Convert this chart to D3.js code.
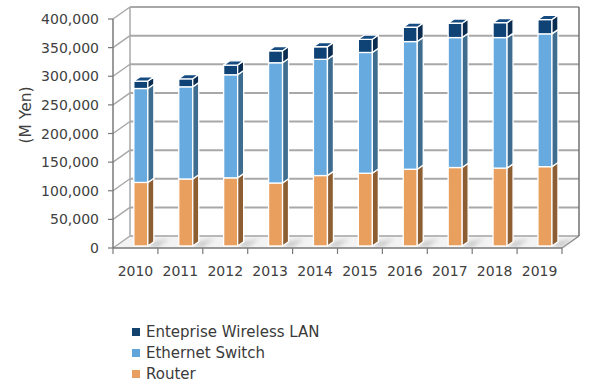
<!DOCTYPE html>
<html><head><meta charset="utf-8">
<script src="https://cdn.jsdelivr.net/npm/d3@7"></script>
<style>body{margin:0;background:#fff}</style></head>
<body>
<svg id="c" width="600" height="392"></svg>
<script>
const years = ["2010","2011","2012","2013","2014","2015","2016","2017","2018","2019"];
const router   = [111000,117000,119000,110000,123000,127000,134000,137000,136000,138500];
const ethernet = [164000,161000,180000,210000,203000,211000,223000,227000,228000,232000];
const wlan     = [13000,14000,17000,21000,22000,23000,25000,25000,26000,25000];
const yTicks = [0,50000,100000,150000,200000,250000,300000,350000,400000];
const seriesNames = ["Router","Ethernet Switch","Enteprise Wireless LAN"];
const seriesData = [router, ethernet, wlan];
const frontCol = ["#E99F5E","#67AADF","#0F4275"];
const sideCol  = ["#8E5E33","#3F6D8F","#0A2C50"];
const topCol   = ["#F2B884","#8CC2EA","#164C82"];
const legendCol= ["#E8A060","#5FA5DA","#14426F"];

const svg = d3.select("#c");
const x = d3.scaleBand().domain(years).range([113,562]).padding(0);
const y = d3.scaleLinear().domain([0,400000]).range([248,19]);
const DX = 17, DY = -12;
const font = "'DejaVu Sans', Verdana, sans-serif";
const gridCol = "#a8a8a8";

// floor
svg.append("polygon")
  .attr("points", [[x.range()[0],y(0)],[x.range()[1],y(0)],[x.range()[1]+DX,y(0)+DY],[x.range()[0]+DX,y(0)+DY]].map(p=>p.join(",")).join(" "))
  .attr("fill","#f3f3f3");

// back wall grid
const g = svg.append("g");
yTicks.forEach(v=>{
  g.append("line").attr("x1",x.range()[0]+DX).attr("x2",x.range()[1]+DX)
    .attr("y1",y(v)+DY).attr("y2",y(v)+DY)
    .attr("stroke", v===0 ? "#b8b8b8" : gridCol).attr("stroke-width",2);
  g.append("line").attr("x1",x.range()[0]).attr("x2",x.range()[0]+DX)
    .attr("y1",y(v)).attr("y2",y(v)+DY)
    .attr("stroke",gridCol).attr("stroke-width",1.5);
});
g.append("line").attr("x1",x.range()[0]+DX).attr("x2",x.range()[0]+DX)
  .attr("y1",y(400000)+DY).attr("y2",y(0)+DY).attr("stroke",gridCol).attr("stroke-width",1.5);
g.append("line").attr("x1",x.range()[1]+DX).attr("x2",x.range()[1]+DX)
  .attr("y1",y(400000)+DY).attr("y2",y(0)+DY).attr("stroke","#707070").attr("stroke-width",1.5);
g.append("line").attr("x1",x.range()[1]).attr("x2",x.range()[1]+DX)
  .attr("y1",y(0)).attr("y2",y(0)+DY).attr("stroke","#808080").attr("stroke-width",1.2);

const defs = svg.append("defs");
defs.append("filter").attr("id","blur").append("feGaussianBlur").attr("stdDeviation",2);

const bw = x.bandwidth();
const barW = 14, t0 = 0.17, bdx = 6, bdy = -4.2;
function barLeft(c){ return x(c) + 0.4*bw + t0*DX; }
const z0 = t0*DY;

years.forEach((c)=>{
  const L = barLeft(c);
  svg.append("polygon")
    .attr("points", [[L+barW,y(0)+z0],[L+barW+bdx,y(0)+z0+bdy],[L+barW+bdx+16,y(0)+z0+bdy-3],[L+barW+10,y(0)+z0+1]].map(p=>p.join(",")).join(" "))
    .attr("fill","#bdbdbd").attr("filter","url(#blur)").attr("opacity",0.8);
});

const stack = d3.stack().keys([0,1,2]).value((d,k)=>seriesData[k][d])(years.map((_,i)=>i));
const bars = svg.append("g");
years.forEach((c,i)=>{
  const L = barLeft(c);
  stack.forEach((s,k)=>{
    const v0 = s[i][0], v1 = s[i][1];
    const yb = y(v0)+z0, yt = y(v1)+z0;
    bars.append("rect").attr("x",L).attr("y",yt).attr("width",barW).attr("height",yb-yt)
      .attr("fill",frontCol[k]).attr("stroke","#fff").attr("stroke-width",1.3);
    bars.append("polygon")
      .attr("points",[[L+barW,yb],[L+barW+bdx,yb+bdy],[L+barW+bdx,yt+bdy],[L+barW,yt]].map(p=>p.join(",")).join(" "))
      .attr("fill",sideCol[k]).attr("stroke","#fff").attr("stroke-width",1.3).attr("stroke-linejoin","round");
    if(k===2){
      bars.append("polygon")
        .attr("points",[[L,yt],[L+barW,yt],[L+barW+bdx,yt+bdy],[L+bdx,yt+bdy]].map(p=>p.join(",")).join(" "))
        .attr("fill",topCol[k]).attr("stroke","#fff").attr("stroke-width",1.3).attr("stroke-linejoin","round");
    }
  });
});

const ax = svg.append("g");
ax.append("line").attr("x1",x.range()[0]).attr("x2",x.range()[0]).attr("y1",y(0)).attr("y2",y(400000))
  .attr("stroke","#7a7a7a").attr("stroke-width",1.5);
ax.append("line").attr("x1",x.range()[0]).attr("x2",x.range()[1]).attr("y1",y(0)).attr("y2",y(0))
  .attr("stroke","#7a7a7a").attr("stroke-width",1.5);
yTicks.forEach(v=>{
  ax.append("line").attr("x1",x.range()[0]-5).attr("x2",x.range()[0]).attr("y1",y(v)).attr("y2",y(v))
    .attr("stroke","#7a7a7a").attr("stroke-width",1.2);
  ax.append("text").attr("x",99).attr("y",y(v)).attr("dy","0.36em").attr("text-anchor","end")
    .attr("font-family",font).attr("font-size",14).attr("fill","#404040")
    .text(d3.format(",")(v));
});
const xTickPos = years.map(c=>x(c)).concat([x.range()[1]]);
xTickPos.forEach(p=>{
  ax.append("line").attr("x1",p).attr("x2",p).attr("y1",y(0)).attr("y2",y(0)+6)
    .attr("stroke","#7a7a7a").attr("stroke-width",1.2);
});
years.forEach(c=>{
  ax.append("text").attr("x",x(c)+bw/2).attr("y",271).attr("dy","0.36em").attr("text-anchor","middle")
    .attr("font-family",font).attr("font-size",14).attr("fill","#404040").text(c);
});
ax.append("text").attr("transform","translate(25,115) rotate(-90)").attr("dy","0.36em")
  .attr("text-anchor","middle").attr("font-family",font).attr("font-size",15.5).attr("fill","#404040")
  .text("(M Yen)");

const lg = svg.append("g");
[2,1,0].forEach((k,j)=>{
  const cy = 332 + j*21;
  lg.append("rect").attr("x",132).attr("y",cy-4).attr("width",8).attr("height",8).attr("fill",legendCol[k]);
  lg.append("text").attr("x",146).attr("y",cy).attr("dy","0.36em").attr("font-family",font)
    .attr("font-size",15).attr("fill","#3a3a3a").text(seriesNames[k]);
});
</script>
</body></html>
